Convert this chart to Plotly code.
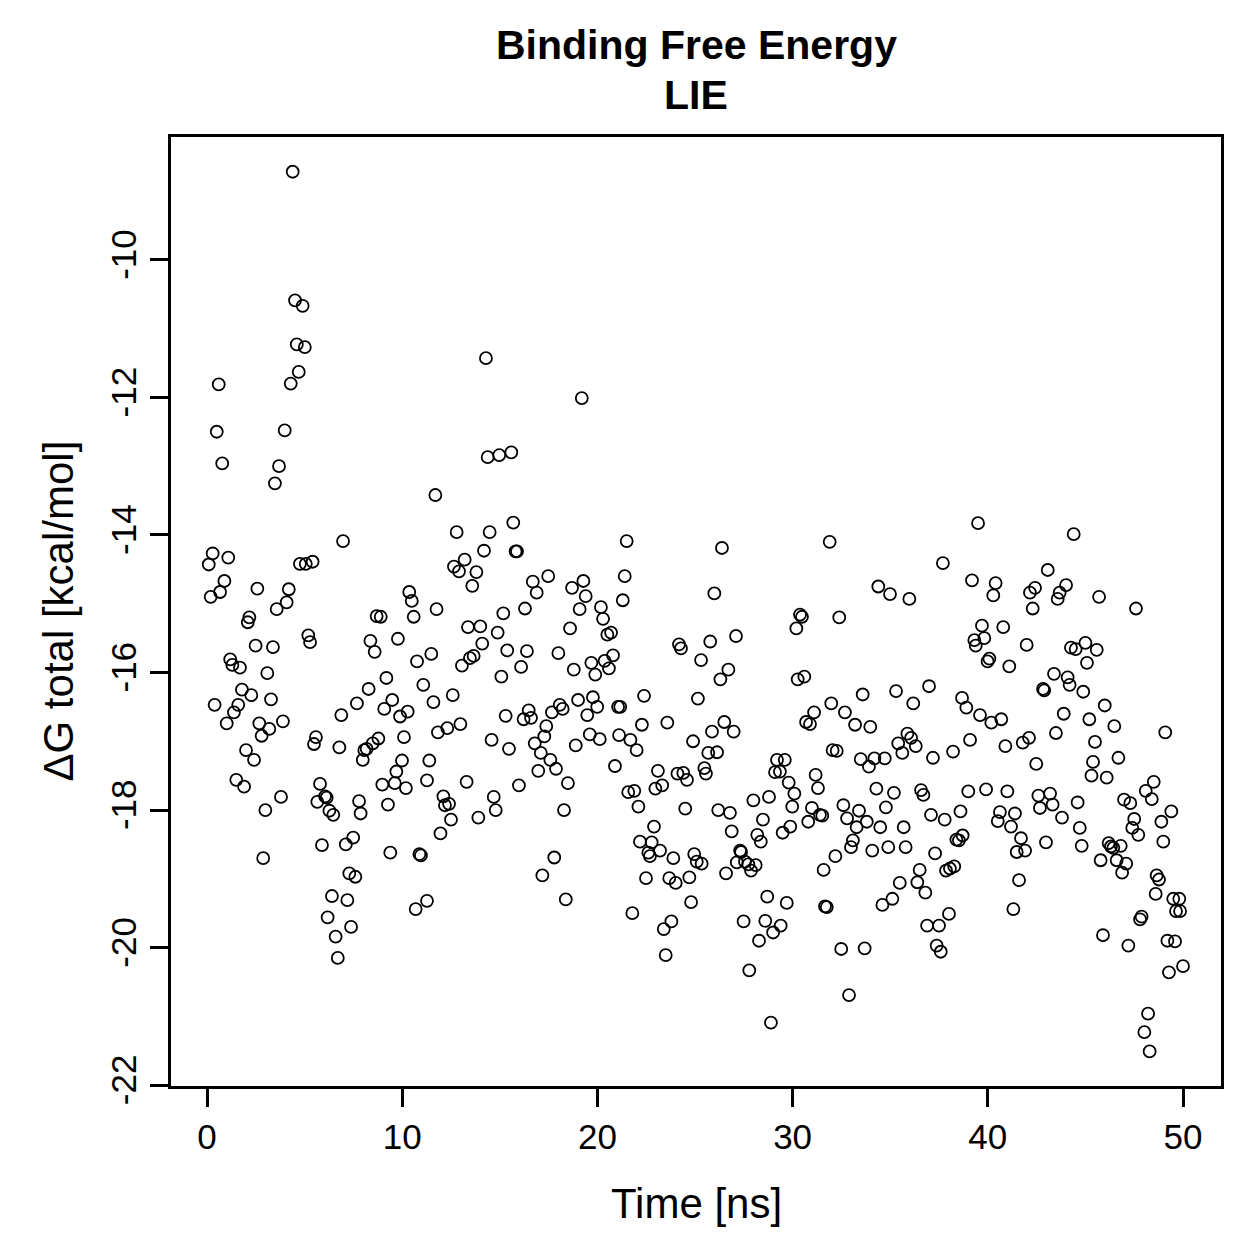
import plotly.graph_objects as go

# (time [ns], dG total [kcal/mol]), grouped by region
seg_early_top = [
    [4.39, -8.72], [4.51, -10.59], [4.90, -10.67], [4.60, -11.23], [5.01, -11.27],
    [4.70, -11.63], [4.29, -11.80], [0.60, -11.81], [0.50, -12.50], [3.98, -12.48],
    [0.78, -12.96], [3.69, -13.00], [3.48, -13.25], [14.29, -11.43], [19.20, -12.01],
    [14.38, -12.87], [14.97, -12.84], [15.59, -12.80], [11.70, -13.42], [6.97, -14.09],
]

seg_0_12 = [
    [0.29, -14.27], [0.09, -14.43], [1.09, -14.33], [4.76, -14.42], [5.06, -14.42],
    [5.41, -14.39], [0.89, -14.67], [0.67, -14.83], [0.19, -14.90], [2.58, -14.78],
    [4.19, -14.79], [4.08, -14.98], [3.57, -15.08], [10.36, -14.83], [10.49, -14.96],
    [10.59, -15.19], [11.76, -15.08], [2.17, -15.20], [2.09, -15.27], [8.69, -15.18],
    [8.90, -15.19], [5.19, -15.46], [5.28, -15.56], [2.49, -15.61], [3.38, -15.63],
    [8.37, -15.54], [8.59, -15.70], [9.78, -15.51], [11.49, -15.73], [10.76, -15.84],
    [1.19, -15.81], [1.30, -15.89], [1.69, -15.93], [3.09, -16.01], [9.19, -16.08],
    [11.08, -16.18], [8.28, -16.24], [1.79, -16.25], [2.27, -16.33], [3.28, -16.39],
    [0.39, -16.47], [1.60, -16.47], [1.38, -16.58], [1.01, -16.74], [2.68, -16.74],
    [3.19, -16.82], [2.80, -16.92], [3.89, -16.71], [7.68, -16.45], [9.49, -16.40],
    [9.08, -16.53], [10.28, -16.57], [9.89, -16.64], [11.60, -16.43], [6.88, -16.62],
    [5.58, -16.94], [5.48, -17.04], [6.78, -17.09], [8.78, -16.96], [8.49, -17.03],
    [8.18, -17.11], [8.06, -17.13], [7.98, -17.27], [10.09, -16.94], [11.83, -16.87],
    [2.00, -17.13], [2.41, -17.27], [9.99, -17.28], [11.39, -17.28], [9.70, -17.44],
    [1.50, -17.56], [1.90, -17.66], [3.79, -17.81], [2.99, -18.00], [5.79, -17.62],
    [6.05, -17.80], [6.13, -17.82], [5.65, -17.88], [6.27, -18.01], [6.47, -18.07],
    [7.79, -17.87], [7.87, -18.05], [8.98, -17.63], [9.62, -17.61], [10.19, -17.68],
    [9.27, -17.92], [11.27, -17.57], [12.11, -17.80], [11.96, -18.34], [5.89, -18.51],
    [7.11, -18.50], [7.49, -18.40], [9.39, -18.62], [10.88, -18.64], [10.96, -18.66],
    [2.88, -18.70], [7.29, -18.92], [7.60, -18.97], [6.40, -19.25], [7.19, -19.31],
    [6.18, -19.56], [7.38, -19.70], [6.59, -19.84], [6.70, -20.15], [11.27, -19.32],
    [10.69, -19.44],
]

seg_12_25 = [
    [12.79, -13.96], [14.48, -13.96], [15.69, -13.82], [14.19, -14.23], [15.81, -14.24],
    [15.88, -14.24], [21.50, -14.09], [12.65, -14.46], [13.20, -14.36], [12.91, -14.53],
    [13.80, -14.54], [13.59, -14.74], [21.40, -14.60], [16.69, -14.68], [17.48, -14.60],
    [16.89, -14.84], [18.70, -14.77], [19.28, -14.67], [19.40, -14.89], [21.30, -14.95],
    [16.29, -15.07], [15.18, -15.14], [19.09, -15.08], [20.18, -15.05], [20.29, -15.22],
    [18.60, -15.36], [13.37, -15.34], [14.00, -15.33], [14.89, -15.42], [20.51, -15.45],
    [20.70, -15.42], [14.10, -15.58], [24.18, -15.59], [24.28, -15.65], [25.31, -15.82],
    [13.66, -15.76], [13.47, -15.79], [13.06, -15.90], [15.38, -15.68], [16.39, -15.69],
    [18.00, -15.72], [16.09, -15.92], [15.08, -16.06], [18.79, -15.96], [19.69, -15.86],
    [19.89, -16.03], [20.37, -15.83], [20.80, -15.75], [20.59, -15.94], [12.59, -16.33],
    [19.01, -16.40], [19.77, -16.36], [19.99, -16.50], [21.06, -16.50], [21.17, -16.50],
    [22.39, -16.34], [25.15, -16.38], [15.30, -16.63], [16.48, -16.55], [16.22, -16.68],
    [16.60, -16.66], [17.67, -16.58], [18.07, -16.47], [18.22, -16.53], [19.48, -16.62],
    [17.38, -16.78], [17.28, -16.93], [16.79, -17.03], [17.10, -17.17], [17.59, -17.27],
    [17.88, -17.40], [16.97, -17.43], [12.98, -16.75], [12.31, -16.81], [14.58, -16.98],
    [15.47, -17.11], [18.89, -17.06], [19.61, -16.90], [20.12, -16.97], [21.11, -16.91],
    [21.69, -16.98], [22.01, -17.13], [22.28, -16.76], [23.58, -16.73], [24.90, -17.00],
    [20.90, -17.36], [23.10, -17.43], [24.10, -17.47], [24.40, -17.46], [13.30, -17.59],
    [12.19, -17.93], [12.40, -17.91], [12.50, -18.14], [13.90, -18.11], [14.69, -17.81],
    [14.79, -18.00], [15.98, -17.64], [18.49, -17.61], [18.29, -18.00], [17.79, -18.69],
    [17.18, -18.95], [18.38, -19.30], [24.59, -17.56], [21.58, -17.74], [21.89, -17.72],
    [22.97, -17.69], [23.32, -17.64], [22.10, -17.95], [24.50, -17.98], [22.90, -18.24],
    [22.18, -18.46], [22.78, -18.47], [22.61, -18.62], [22.69, -18.67], [23.21, -18.59],
    [23.89, -18.70], [24.96, -18.64], [25.09, -18.75], [22.49, -18.99], [23.68, -18.99],
    [24.01, -19.06], [24.71, -18.98], [24.80, -19.34], [21.79, -19.50], [23.79, -19.62],
    [23.40, -19.73], [23.50, -20.11],
]

seg_25_39 = [
    [26.38, -14.19], [31.90, -14.10], [37.70, -14.41], [25.99, -14.85], [34.39, -14.75],
    [34.99, -14.86], [35.98, -14.93], [30.38, -15.16], [30.48, -15.19], [30.19, -15.36],
    [32.39, -15.20], [25.78, -15.55], [27.10, -15.47], [26.71, -15.96], [26.30, -16.10],
    [30.26, -16.10], [30.60, -16.06], [35.30, -16.27], [36.99, -16.20], [33.59, -16.32],
    [36.18, -16.45], [38.68, -16.37], [31.98, -16.45], [32.68, -16.58], [31.10, -16.58],
    [30.69, -16.72], [30.89, -16.75], [33.20, -16.76], [33.98, -16.79], [26.50, -16.72],
    [25.87, -16.86], [26.98, -16.86], [25.68, -17.17], [26.13, -17.16], [25.48, -17.39],
    [25.56, -17.47], [29.20, -17.27], [29.60, -17.27], [29.10, -17.45], [29.35, -17.44],
    [31.18, -17.49], [32.05, -17.13], [32.26, -17.14], [33.49, -17.26], [34.19, -17.25],
    [34.72, -17.25], [33.91, -17.37], [35.41, -17.03], [35.88, -16.89], [36.07, -16.95],
    [36.31, -17.07], [35.62, -17.17], [37.19, -17.24], [38.22, -17.15], [29.80, -17.60],
    [30.09, -17.76], [31.30, -17.68], [28.79, -17.81], [27.99, -17.86], [29.98, -17.95],
    [26.19, -18.00], [26.79, -18.04], [28.48, -18.14], [26.88, -18.31], [28.19, -18.36],
    [28.37, -18.46], [29.49, -18.33], [29.88, -18.24], [30.80, -18.17], [30.99, -17.97],
    [31.40, -18.07], [31.52, -18.08], [32.60, -17.93], [32.79, -18.12], [33.40, -18.01],
    [33.28, -18.25], [33.80, -18.17], [34.29, -17.69], [35.19, -17.75], [34.78, -17.96],
    [34.49, -18.25], [35.69, -18.25], [36.58, -17.71], [36.70, -17.78], [37.09, -18.07],
    [37.79, -18.14], [38.60, -18.02], [38.39, -18.43], [25.34, -18.78], [27.31, -18.59],
    [27.36, -18.61], [27.14, -18.76], [27.56, -18.75], [27.73, -18.79], [28.11, -18.80],
    [27.87, -18.88], [26.59, -18.92], [33.09, -18.44], [32.99, -18.54], [34.08, -18.59],
    [34.90, -18.54], [35.79, -18.54], [32.19, -18.67], [31.59, -18.87], [37.30, -18.63],
    [36.51, -18.87], [37.86, -18.88], [38.06, -18.85], [38.28, -18.82], [36.39, -19.05],
    [36.80, -19.20], [35.49, -19.06], [35.11, -19.29], [34.60, -19.38], [28.70, -19.26],
    [29.70, -19.35], [31.66, -19.40], [31.75, -19.41], [27.49, -19.62], [28.60, -19.61],
    [29.39, -19.68], [29.00, -19.78], [28.28, -19.90], [38.01, -19.51], [36.89, -19.68],
    [37.50, -19.68], [37.38, -19.97], [37.59, -20.06], [32.49, -20.02], [33.69, -20.01],
    [27.78, -20.33], [32.89, -20.69], [28.89, -21.09],
]

seg_39_50 = [
    [39.50, -13.83], [44.40, -13.99], [43.07, -14.51], [39.19, -14.66], [40.40, -14.70],
    [40.28, -14.88], [42.42, -14.77], [42.16, -14.84], [42.30, -15.07], [44.01, -14.73],
    [43.68, -14.84], [43.58, -14.93], [45.70, -14.90], [47.59, -15.07], [39.70, -15.32],
    [40.79, -15.34], [39.31, -15.53], [39.38, -15.61], [39.82, -15.50], [41.99, -15.60],
    [40.08, -15.80], [39.99, -15.84], [41.10, -15.91], [44.26, -15.64], [44.50, -15.66],
    [45.00, -15.57], [45.58, -15.67], [45.08, -15.86], [43.39, -16.02], [44.09, -16.07],
    [44.19, -16.18], [42.83, -16.24], [42.89, -16.26], [44.89, -16.28], [38.90, -16.51],
    [39.60, -16.62], [40.18, -16.73], [40.69, -16.68], [43.89, -16.60], [45.99, -16.48],
    [45.20, -16.68], [46.48, -16.78], [49.09, -16.87], [39.09, -16.98], [40.90, -17.07],
    [41.79, -17.02], [42.11, -16.95], [43.49, -16.88], [45.49, -17.01], [42.48, -17.33],
    [45.39, -17.30], [46.69, -17.24], [45.31, -17.50], [46.09, -17.53], [39.00, -17.73],
    [39.91, -17.70], [41.00, -17.73], [42.59, -17.79], [43.19, -17.76], [43.32, -17.92],
    [42.67, -17.97], [44.60, -17.89], [40.62, -18.03], [40.51, -18.16], [41.39, -18.05],
    [41.19, -18.24], [43.80, -18.11], [44.71, -18.26], [44.81, -18.52], [46.98, -17.85],
    [47.30, -17.90], [48.09, -17.72], [48.50, -17.59], [48.40, -17.84], [49.40, -18.02],
    [48.89, -18.17], [48.99, -18.46], [47.50, -18.13], [47.40, -18.26], [47.71, -18.36],
    [41.70, -18.41], [41.48, -18.61], [41.91, -18.59], [42.98, -18.47], [38.71, -18.37],
    [38.52, -18.44], [46.19, -18.48], [46.31, -18.53], [46.43, -18.55], [46.81, -18.52],
    [45.78, -18.73], [46.60, -18.73], [47.09, -18.78], [46.88, -18.91], [41.60, -19.02],
    [41.31, -19.44], [48.65, -18.95], [48.77, -19.01], [48.60, -19.22], [49.50, -19.29],
    [49.81, -19.29], [49.64, -19.47], [49.85, -19.47], [47.88, -19.55], [47.80, -19.59],
    [45.90, -19.82], [47.20, -19.97], [49.20, -19.90], [49.59, -19.91], [49.28, -20.36],
    [50.00, -20.27], [48.21, -20.96], [48.02, -21.23], [48.29, -21.51],
]

x_ticks = [0, 10, 20, 30, 40, 50]
y_ticks = [-10, -12, -14, -16, -18, -20, -22]
y_tick_labels = ["-10", "-12", "-14", "-16", "-18", "-20", "-22"]

points = sorted(seg_early_top + seg_0_12 + seg_12_25 + seg_25_39 + seg_39_50)
time_ns = [p[0] for p in points]
dg_total = [p[1] for p in points]

FONT = "Liberation Sans, Arial, Helvetica, sans-serif"

fig = go.Figure(
    go.Scatter(
        x=time_ns, y=dg_total, mode="markers",
        marker=dict(symbol="circle-open", size=12, color="black",
                    line=dict(width=1.8, color="black")),
        hoverinfo="x+y", showlegend=False,
    )
)

axis_common = dict(
    showgrid=False, zeroline=False, showline=True, linewidth=2.5,
    linecolor="black", mirror=True, ticks="outside", ticklen=18,
    tickwidth=2.5, tickcolor="black",
    tickfont=dict(family=FONT, size=35, color="black"),
)

fig.update_layout(
    width=1259, height=1259,
    margin=dict(l=171, r=38, t=137, b=173, pad=0),
    paper_bgcolor="white", plot_bgcolor="white",
    xaxis=dict(range=[-1.844, 51.946], tickvals=x_ticks, **axis_common),
    yaxis=dict(range=[-22.012, -8.215], tickvals=y_ticks, ticktext=y_tick_labels,
               tickangle=-90, **axis_common),
    annotations=[
        dict(text="<b>Binding Free Energy</b>", x=0.5, y=1.0969, xref="paper", yref="paper",
             xanchor="center", yanchor="middle", showarrow=False,
             font=dict(family=FONT, size=41, color="black")),
        dict(text="<b>LIE</b>", x=0.5, y=1.0443, xref="paper", yref="paper",
             xanchor="center", yanchor="middle", showarrow=False,
             font=dict(family=FONT, size=41, color="black")),
        dict(text="Time [ns]", x=0.5, y=-0.1233, xref="paper", yref="paper",
             xanchor="center", yanchor="middle", showarrow=False,
             font=dict(family=FONT, size=42, color="black")),
        dict(text="ΔG total [kcal/mol]", x=-0.1076, y=0.5, xref="paper", yref="paper",
             xanchor="center", yanchor="middle", showarrow=False, textangle=-90,
             font=dict(family=FONT, size=42, color="black")),
    ],
)

fig.write_html("out.html")
